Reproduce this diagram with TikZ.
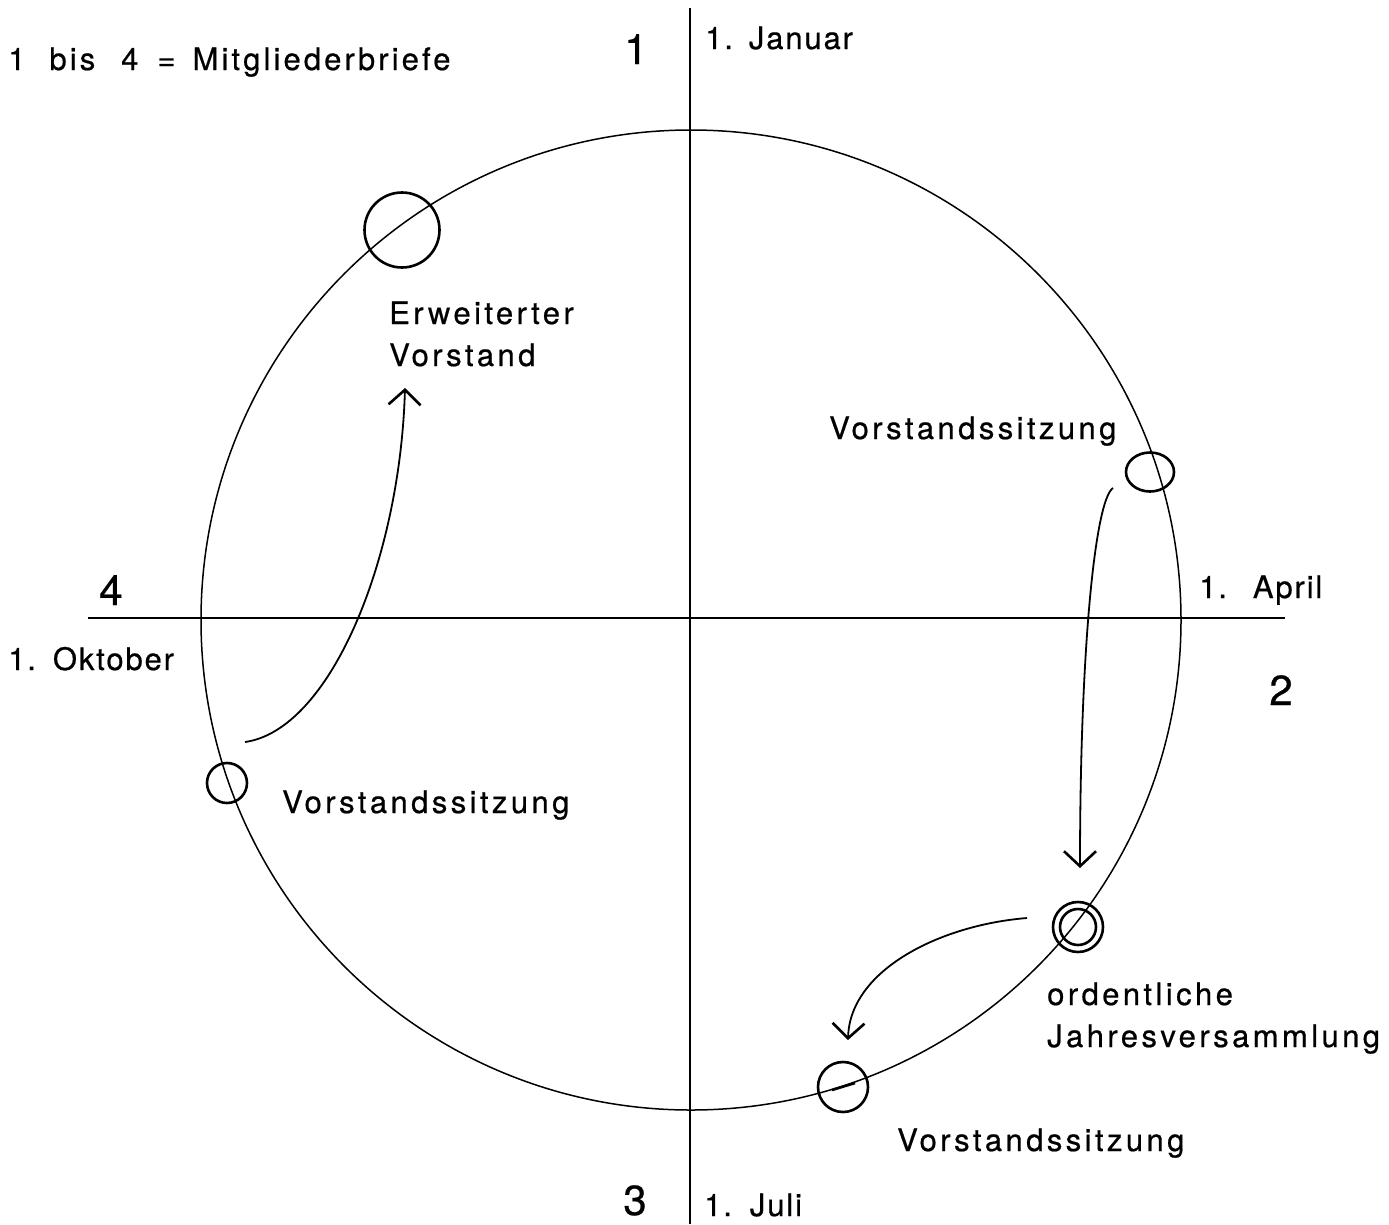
\documentclass[tikz,border=0pt]{standalone}
\usepackage{fontspec}
\setmainfont{TeX Gyre Heros}[FakeBold=0.6]
\newfontfamily\lblfont{TeX Gyre Heros}[LetterSpace=11,FakeBold=0.6]
\newfontfamily\axfont{TeX Gyre Heros}[LetterSpace=6,FakeBold=0.6]
\newfontfamily\legfont{TeX Gyre Heros}[LetterSpace=10,FakeBold=0.6]
\usetikzlibrary{arrows.meta}
\begin{document}
\begin{tikzpicture}[x=1pt,y=-1pt,
  lbl/.style={anchor=base west,inner sep=0pt,font=\lblfont\fontsize{31}{36}\selectfont},
  axl/.style={anchor=base west,inner sep=0pt,font=\axfont\fontsize{31}{36}\selectfont},
  big/.style={anchor=base,inner sep=0pt,font=\fontsize{42}{48}\selectfont},
  evmark/.style={line width=2.6pt},
  flow/.style={line width=1.8pt,-{Straight Barb[length=15pt,width=32pt,line width=2.6pt]}},
  axis/.style={line width=2pt}]
\useasboundingbox (0,0) rectangle (1389,1224);
% axes
\coordinate (vt) at (690,8);
\coordinate (vb) at (690,1224);
\coordinate (hl) at (88,618);
\coordinate (hr) at (1285,618);
\draw[axis] (vt) -- (vb);
\draw[axis] (hl) -- (hr);
% main circle
\coordinate (c) at (691,620);
\draw[line width=1.5pt] (c) circle[radius=490];
% event markers
\draw[evmark] (402,230) circle[radius=37.5];
\draw[evmark] (1150,472) ellipse[x radius=24,y radius=19.5];
\draw[evmark] (227,783) circle[radius=20];
\draw[evmark] (1078,927) circle[radius=25];
\draw[evmark] (1078,927) circle[radius=18];
\draw[evmark] (843,1087) circle[radius=25];
\draw[evmark] (832,1090) -- (855,1083);
% arrows
\coordinate (a1s) at (245,742);
\coordinate (a1e) at (405,388);
\draw[flow] (a1s) .. controls (330,730) and (400,560) .. (a1e);
\coordinate (a2s) at (1113,488);
\coordinate (a2e) at (1080,868);
\draw[flow] (a2s) .. controls (1095,500) and (1080,650) .. (a2e);
\coordinate (a3s) at (1027,918);
\coordinate (a3e) at (848,1040);
\draw[flow] (a3s) .. controls (940,925) and (850,970) .. (a3e);
% texts
\node[anchor=base west,inner sep=0pt,font=\legfont\fontsize{31}{36}\selectfont] (legend) at (8,70)
  {1\hspace{24pt}bis\hspace{26pt}4\hspace{19pt}=\hspace{17pt}Mitgliederbriefe};
\node[big] (n1) at (636,64) {1};
\node[axl] (jan) at (705,49) {1.\hspace{16pt}Januar};
\node[big] (n4) at (111,605) {4};
\node[axl] (okt) at (8,670) {1.\hspace{17pt}Oktober};
\node[axl] (apr) at (1199,598) {1.\hspace{26pt}April};
\node[big] (n2) at (1281,705) {2};
\node[big] (n3) at (635,1215) {3};
\node[axl] (jul) at (704,1216) {1.\hspace{18pt}Juli};
\node[lbl] (erw) at (389,324) {Erweiterter};
\node[lbl] (vor) at (389,366) {Vorstand};
\node[lbl] (vs1) at (829,439) {Vorstandssitzung};
\node[lbl] (vs2) at (282,813) {Vorstandssitzung};
\node[lbl] (ord) at (1047,1005) {ordentliche};
\node[lbl] (jah) at (1047,1047) {Jahresversammlung};
\node[lbl] (vs3) at (897,1151) {Vorstandssitzung};
\end{tikzpicture}
\end{document}
